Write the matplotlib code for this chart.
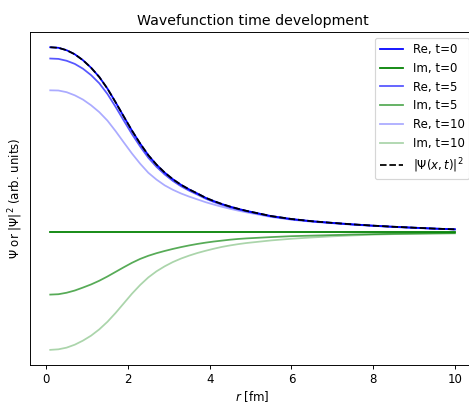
import numpy as np
import matplotlib
matplotlib.use('Agg')
import matplotlib.pyplot as plt

# ==========================================
# Data
# ==========================================
r = [0.1, 0.3, 0.5, 0.7, 0.9, 1.1, 1.3, 1.5, 1.7, 1.9, 2.1, 2.3, 2.5, 2.7,
     2.9, 3.1, 3.3, 3.5, 3.7, 3.9, 4.1, 4.3, 4.5, 4.7, 4.9, 5.5, 6.0, 6.5,
     7.0, 7.5, 8.0, 8.5, 9.0, 9.5, 10.0]

re_t0 = [1.000, 0.997, 0.984, 0.962, 0.930, 0.889, 0.839, 0.776, 0.702, 0.625,
         0.549, 0.479, 0.416, 0.365, 0.322, 0.286, 0.256, 0.231, 0.209, 0.186,
         0.168, 0.152, 0.138, 0.126, 0.115, 0.087, 0.071, 0.059, 0.050, 0.042,
         0.035, 0.029, 0.024, 0.019, 0.015]
im_t0 = [0.0] * len(r)

re_t5 = [0.939, 0.937, 0.927, 0.910, 0.884, 0.849, 0.805, 0.747, 0.677, 0.603,
         0.530, 0.463, 0.402, 0.353, 0.312, 0.277, 0.248, 0.224, 0.203, 0.181,
         0.163, 0.148, 0.134, 0.123, 0.112, 0.085, 0.069, 0.058, 0.049, 0.041,
         0.034, 0.028, 0.023, 0.019, 0.015]
im_t5 = [-0.338, -0.336, -0.328, -0.316, -0.300, -0.283, -0.263, -0.240, -0.215,
         -0.190, -0.166, -0.145, -0.128, -0.114, -0.102, -0.091, -0.081, -0.072,
         -0.064, -0.057, -0.051, -0.046, -0.041, -0.037, -0.034, -0.027, -0.022,
         -0.019, -0.016, -0.013, -0.011, -0.009, -0.008, -0.007, -0.006]

re_t10 = [0.767, 0.766, 0.757, 0.740, 0.717, 0.686, 0.649, 0.603, 0.546, 0.485,
          0.425, 0.370, 0.321, 0.284, 0.253, 0.229, 0.209, 0.192, 0.177, 0.162,
          0.149, 0.137, 0.126, 0.116, 0.107, 0.082, 0.067, 0.056, 0.048, 0.040,
          0.034, 0.028, 0.023, 0.018, 0.015]
im_t10 = [-0.637, -0.634, -0.625, -0.609, -0.587, -0.560, -0.526, -0.485, -0.437,
          -0.385, -0.333, -0.286, -0.245, -0.212, -0.185, -0.162, -0.143, -0.127,
          -0.113, -0.101, -0.090, -0.080, -0.072, -0.065, -0.059, -0.045, -0.036,
          -0.029, -0.023, -0.018, -0.014, -0.011, -0.009, -0.007, -0.006]

psi_sq = re_t0

# ==========================================
# Plot
# ==========================================
fig = plt.figure(figsize=(469 / 85, 403 / 85), dpi=85)
ax = fig.add_axes([0.064, 0.0943, 0.949, 0.826])

ax.plot(r, re_t0, color='blue', label='Re, t=0')
ax.plot(r, im_t0, color='green', label='Im, t=0')
ax.plot(r, re_t5, color='blue', alpha=0.66, label='Re, t=5')
ax.plot(r, im_t5, color='green', alpha=0.66, label='Im, t=5')
ax.plot(r, re_t10, color='blue', alpha=0.33, label='Re, t=10')
ax.plot(r, im_t10, color='green', alpha=0.33, label='Im, t=10')
ax.plot(r, psi_sq, color='black', linestyle='--', label=r'$|\Psi(x,t)|^2$')

ax.set_yticks([])
ax.set_xlabel(r'$r$ [fm]', labelpad=2.5)
ax.set_ylabel(r'$\Psi$ or $|\Psi|^2$ (arb. units)')
ax.set_title('Wavefunction time development')
ax.legend(loc='upper right')

fig.savefig('out.png', dpi=85)
